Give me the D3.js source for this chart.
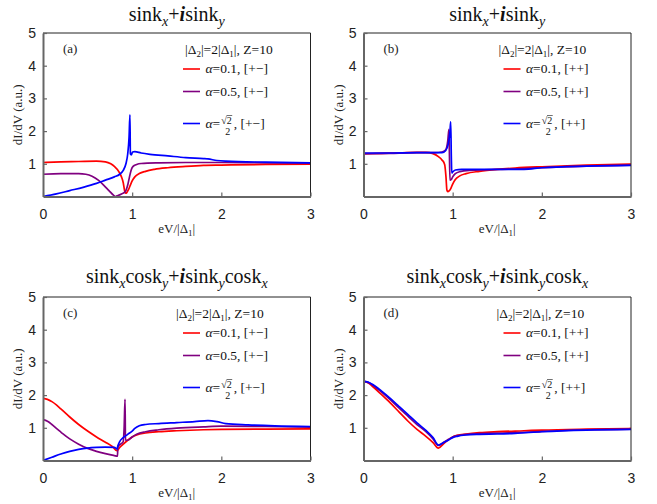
<!DOCTYPE html>
<html><head><meta charset="utf-8">
<script src="https://cdn.jsdelivr.net/npm/d3@7"></script>
<style>body{margin:0;background:#fff}svg{display:block}</style>
</head><body>
<svg id="chart" width="657" height="504"></svg>
<script>
// axis ticks
const xTicks = [0, 1, 2, 3];
const yTicks = [1, 2, 3, 4, 5];
const xDomain = [0, 3];
const yDomain = [0, 5];

// series: [eV/|Δ1|, dI/dV]
// (a) sin kx + i sin ky, [+−]
const redA = [[0,1.04],[0.2,1.06],[0.4,1.07],[0.6,1.08],[0.7,1.06],[0.76,1.0],[0.8,0.92],[0.85,0.76],[0.88,0.6],[0.9,0.42],[0.915,0.18],[0.925,0.1],[0.94,0.12],[0.96,0.22],[0.98,0.35],[1.0,0.48],[1.03,0.6],[1.08,0.7],[1.15,0.77],[1.25,0.83],[1.4,0.88],[1.6,0.92],[1.8,0.95],[2.0,0.96],[2.5,0.98],[3.0,0.99]];
const purpleA = [[0,0.68],[0.2,0.7],[0.4,0.7],[0.48,0.68],[0.55,0.62],[0.62,0.5],[0.68,0.35],[0.74,0.18],[0.79,0.04],[0.81,0.0],[0.84,0.03],[0.88,0.08],[0.92,0.14],[0.95,0.35],[0.97,0.6],[0.99,0.82],[1.01,0.92],[1.05,0.98],[1.1,1.01],[1.3,1.03],[1.6,1.04],[2.0,1.04],[2.5,1.03],[3.0,1.02]];
const blueA = [[0,0.0],[0.15,0.08],[0.3,0.18],[0.45,0.28],[0.6,0.4],[0.7,0.5],[0.8,0.6],[0.86,0.68],[0.9,0.8],[0.93,1.0],[0.95,1.3],[0.965,1.8],[0.975,2.5],[0.98,1.3],[0.99,1.27],[1.005,1.36],[1.03,1.37],[1.1,1.33],[1.2,1.29],[1.4,1.24],[1.6,1.19],[1.8,1.16],[1.85,1.15],[1.95,1.1],[2.05,1.08],[2.5,1.05],[3.0,1.03]];

// (b) sin kx + i sin ky, [++]
const redB = [[0,1.31],[0.2,1.32],[0.4,1.33],[0.6,1.35],[0.7,1.35],[0.78,1.31],[0.84,1.22],[0.88,1.12],[0.91,0.98],[0.925,0.6],[0.935,0.2],[0.945,0.15],[0.96,0.17],[0.98,0.25],[1.0,0.38],[1.03,0.52],[1.08,0.63],[1.15,0.7],[1.3,0.77],[1.5,0.83],[1.7,0.87],[2.0,0.91],[2.5,0.96],[3.0,0.99]];
const purpleB = [[0,1.3],[0.3,1.32],[0.6,1.34],[0.8,1.34],[0.88,1.36],[0.92,1.42],[0.945,1.7],[0.958,2.05],[0.963,1.4],[0.97,0.5],[0.985,0.52],[1.0,0.6],[1.03,0.7],[1.08,0.76],[1.2,0.8],[1.5,0.83],[1.8,0.85],[2.0,0.88],[2.5,0.93],[3.0,0.96]];
const blueB = [[0,1.33],[0.3,1.33],[0.6,1.34],[0.8,1.34],[0.88,1.34],[0.92,1.4],[0.95,1.6],[0.97,2.0],[0.978,2.28],[0.985,1.2],[0.99,0.72],[1.0,0.75],[1.03,0.81],[1.1,0.83],[1.5,0.83],[1.8,0.83],[2.0,0.88],[2.5,0.93],[3.0,0.95]];

// (c) sin kx cos ky + i sin ky cos kx, [+−]
const redC = [[0,1.9],[0.05,1.87],[0.1,1.8],[0.15,1.7],[0.2,1.58],[0.3,1.33],[0.4,1.1],[0.5,0.9],[0.6,0.72],[0.7,0.56],[0.78,0.42],[0.83,0.3],[0.86,0.4],[0.9,0.5],[0.95,0.62],[1.0,0.72],[1.05,0.78],[1.15,0.84],[1.3,0.88],[1.5,0.91],[1.8,0.94],[2.0,0.95],[2.5,0.96],[3.0,0.97]];
const purpleC = [[0,1.25],[0.05,1.2],[0.1,1.1],[0.15,0.98],[0.2,0.87],[0.3,0.66],[0.4,0.5],[0.5,0.37],[0.6,0.28],[0.7,0.21],[0.8,0.15],[0.835,0.13],[0.84,0.42],[0.87,0.5],[0.9,0.58],[0.91,1.0],[0.92,1.87],[0.925,0.62],[0.95,0.62],[1.0,0.72],[1.05,0.8],[1.15,0.88],[1.3,0.94],[1.5,0.99],[1.8,1.03],[2.0,1.05],[2.5,1.04],[3.0,1.02]];
const blueC = [[0,0.0],[0.1,0.1],[0.2,0.2],[0.3,0.28],[0.4,0.34],[0.5,0.38],[0.6,0.4],[0.7,0.41],[0.8,0.4],[0.83,0.35],[0.84,0.45],[0.86,0.58],[0.9,0.7],[0.95,0.8],[1.0,0.9],[1.03,0.98],[1.08,1.06],[1.15,1.1],[1.3,1.13],[1.5,1.16],[1.7,1.19],[1.85,1.22],[1.95,1.19],[2.05,1.13],[2.3,1.09],[2.6,1.06],[3.0,1.04]];

// (d) sin kx cos ky + i sin ky cos kx, [++]
const redD = [[0,2.42],[0.05,2.38],[0.1,2.27],[0.2,2.02],[0.3,1.76],[0.4,1.48],[0.5,1.2],[0.6,0.95],[0.7,0.74],[0.78,0.55],[0.84,0.38],[0.9,0.52],[0.95,0.63],[1.0,0.72],[1.05,0.77],[1.15,0.81],[1.3,0.85],[1.5,0.88],[1.8,0.91],[2.0,0.93],[2.5,0.96],[3.0,0.98]];
const purpleD = [[0,2.42],[0.05,2.39],[0.1,2.31],[0.2,2.1],[0.3,1.86],[0.4,1.6],[0.5,1.35],[0.6,1.1],[0.7,0.88],[0.78,0.66],[0.84,0.46],[0.9,0.56],[0.95,0.64],[1.0,0.72],[1.05,0.76],[1.15,0.8],[1.3,0.82],[1.5,0.84],[1.8,0.86],[2.0,0.89],[2.5,0.94],[3.0,0.96]];
const blueD = [[0,2.42],[0.05,2.4],[0.1,2.33],[0.2,2.13],[0.3,1.9],[0.4,1.65],[0.5,1.4],[0.6,1.15],[0.7,0.92],[0.78,0.7],[0.84,0.47],[0.9,0.55],[0.95,0.62],[1.0,0.7],[1.05,0.74],[1.15,0.78],[1.3,0.8],[1.5,0.81],[1.7,0.83],[2.0,0.88],[2.5,0.93],[3.0,0.95]];

const alphaLabels = ["0.1", "0.5", "sqrt"];
const colors = ["#ff0000", "#800080", "#0000ff"];

// title pieces: [text, kind]  kind: n normal, s subscript, i italic
const titleSin = [["sink","n"],["x","s"],["+","n"],["i","i"],["sink","n"],["y","s"]];
const titleSinCos = [["sink","n"],["x","s"],["cosk","n"],["y","s"],["+","n"],["i","i"],["sink","n"],["y","s"],["cosk","n"],["x","s"]];

const panels = [
  {tag:"(a)", title:titleSin,    signs:"[+−]", series:[redA,purpleA,blueA], left:43,    right:310.5, top:33,  bottom:196.5, headDx:142, titleY:21},
  {tag:"(b)", title:titleSin,    signs:"[++]", series:[redB,purpleB,blueB], left:363.5, right:631,   top:33,  bottom:196.5, headDx:135, titleY:21},
  {tag:"(c)", title:titleSinCos, signs:"[+−]", series:[redC,purpleC,blueC], left:43,    right:310.5, top:297, bottom:460.5, headDx:133, titleY:283},
  {tag:"(d)", title:titleSinCos, signs:"[++]", series:[redD,purpleD,blueD], left:363.5, right:631,   top:297, bottom:460.5, headDx:133, titleY:283}
];

const svg = d3.select("#chart");
const serif = "'Liberation Serif','DejaVu Serif',serif";
const sans = "'Liberation Sans',Arial,sans-serif";

panels.forEach(p => {
  const x = d3.scaleLinear().domain(xDomain).range([p.left, p.right]);
  const y = d3.scaleLinear().domain(yDomain).range([p.bottom, p.top]);
  const g = svg.append("g");

  // title
  const cx = (p.left + p.right) / 2;
  const t = g.append("text").attr("x", cx).attr("y", p.titleY)
    .attr("text-anchor", "middle").attr("font-family", serif)
    .attr("font-size", 20).attr("fill", "#111");
  let shifted = false;
  p.title.forEach(([s, k]) => {
    const ts = t.append("tspan").text(s);
    if (k === "s") {
      ts.attr("font-size", 14).attr("font-style", "italic").attr("dy", shifted ? 0 : 5);
      shifted = true;
    } else {
      if (shifted) { ts.attr("dy", -5); shifted = false; }
      if (k === "i") ts.attr("font-style", "italic").attr("font-weight", "bold");
    }
  });

  // curves
  const line = d3.line().x(d => x(d[0])).y(d => y(d[1])).curve(d3.curveMonotoneX);
  const clipId = "clip" + p.tag.replace(/\W/g, "");
  g.append("clipPath").attr("id", clipId).append("rect")
    .attr("x", p.left).attr("y", p.top - 2).attr("width", p.right - p.left).attr("height", p.bottom - p.top + 2);
  p.series.forEach((s, i) => {
    g.append("path").datum(s).attr("d", line)
      .attr("fill", "none").attr("stroke", colors[i]).attr("stroke-width", 1.7)
      .attr("stroke-linejoin", "round").attr("clip-path", `url(#${clipId})`);
  });

  // frame: top/right thin
  g.append("path").attr("d", `M${p.left},${p.top}H${p.right}V${p.bottom}`)
    .attr("fill", "none").attr("stroke", "#222").attr("stroke-width", 1);

  // axes
  const xAxis = d3.axisBottom(x).tickValues(xTicks).tickSizeInner(-4).tickSizeOuter(0).tickPadding(9).tickFormat(d3.format("d"));
  const yAxis = d3.axisLeft(y).tickValues(yTicks).tickSizeInner(-4).tickSizeOuter(0).tickPadding(7).tickFormat(d3.format("d"));
  const gx = g.append("g").attr("transform", `translate(0,${p.bottom})`).call(xAxis);
  const gy = g.append("g").attr("transform", `translate(${p.left},0)`).call(yAxis);
  [gx, gy].forEach(a => {
    a.select(".domain").attr("stroke", "#666").attr("stroke-width", 2);
    a.selectAll(".tick line").attr("stroke", "#666").attr("stroke-width", 1.2);
    a.selectAll(".tick text").attr("font-family", sans).attr("font-size", 14).attr("fill", "#222");
  });
  gx.selectAll(".tick text").attr("dy", "0.95em");

  // axis labels
  const xl = g.append("text").attr("x", cx).attr("y", p.bottom + 36)
    .attr("text-anchor", "middle").attr("font-family", serif).attr("font-size", 13).attr("fill", "#222");
  xl.append("tspan").text("eV/|Δ");
  xl.append("tspan").text("1").attr("font-size", 9).attr("dy", 3);
  xl.append("tspan").text("|").attr("dy", -3);

  g.append("text").attr("transform", `translate(${p.left - 21},${(p.top + p.bottom) / 2}) rotate(-90)`)
    .attr("text-anchor", "middle").attr("font-family", serif).attr("font-size", 13).attr("fill", "#222")
    .text("dI/dV (a.u.)");

  // panel tag
  g.append("text").attr("x", p.left + 20).attr("y", p.top + 20)
    .attr("font-family", serif).attr("font-size", 13).attr("fill", "#222").text(p.tag);

  // legend header
  const hx = p.left + p.headDx, hy = p.top + 21;
  const h = g.append("text").attr("x", hx).attr("y", hy)
    .attr("font-family", serif).attr("font-size", 13.5).attr("fill", "#111");
  h.append("tspan").text("|Δ");
  h.append("tspan").text("2").attr("font-size", 9).attr("dy", 3);
  h.append("tspan").text("|=2|Δ").attr("dy", -3);
  h.append("tspan").text("1").attr("font-size", 9).attr("dy", 3);
  h.append("tspan").text("|, Z=10").attr("dy", -3);

  // legend entries
  const rowDy = [36, 58.5, 90.5];
  alphaLabels.forEach((a, i) => {
    const ly = p.top + rowDy[i];
    g.append("line").attr("x1", p.left + 140).attr("x2", p.left + 157)
      .attr("y1", ly).attr("y2", ly).attr("stroke", colors[i]).attr("stroke-width", 1.6);
    const tx = p.left + 162.5, ty = ly + 4;
    if (a !== "sqrt") {
      const tt = g.append("text").attr("x", tx).attr("y", ty)
        .attr("font-family", serif).attr("font-size", 13.5).attr("fill", "#111");
      tt.append("tspan").text("α").attr("font-style", "italic");
      tt.append("tspan").text(`=${a}, ${p.signs}`);
    } else {
      const tt = g.append("text").attr("x", tx).attr("y", ty + 0.5)
        .attr("font-family", serif).attr("font-size", 13.5).attr("fill", "#111");
      tt.append("tspan").text("α").attr("font-style", "italic");
      tt.append("tspan").text("=");
      const w = tt.node().getComputedTextLength();
      const fx = tx + w + 1;
      g.append("text").attr("x", fx).attr("y", ty - 4).attr("font-family", serif)
        .attr("font-size", 10).attr("fill", "#111").text("√2");
      g.append("line").attr("x1", fx + 5.3).attr("x2", fx + 11).attr("y1", ty - 12).attr("y2", ty - 12)
        .attr("stroke", "#111").attr("stroke-width", 0.6);
      g.append("text").attr("x", fx + 4).attr("y", ty + 7).attr("font-family", serif)
        .attr("font-size", 10).attr("fill", "#111").text("2");
      g.append("text").attr("x", fx + 12.5).attr("y", ty + 0.5).attr("font-family", serif)
        .attr("font-size", 13.5).attr("fill", "#111").text(`, ${p.signs}`);
    }
  });
});
</script>
</body></html>
